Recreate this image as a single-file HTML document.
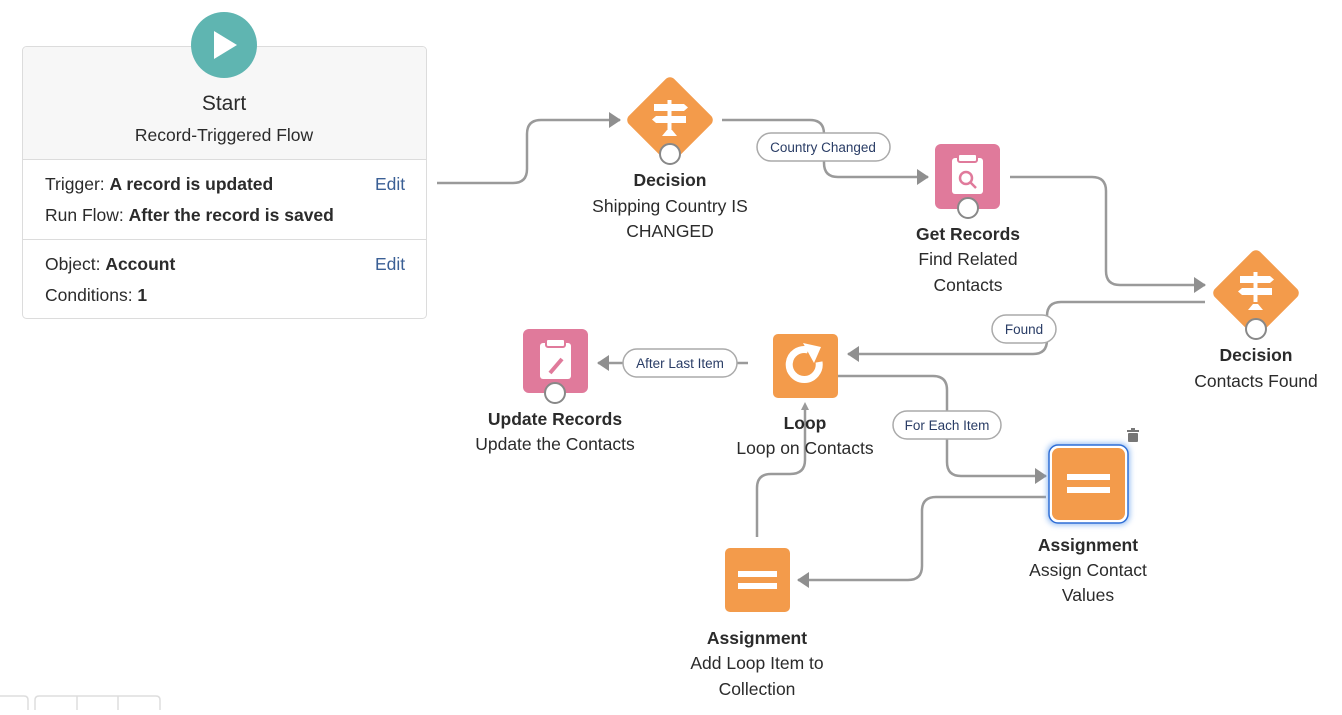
<!DOCTYPE html>
<html><head><meta charset="utf-8"><style>
body{margin:0;background:#fff;width:1342px;height:710px;overflow:hidden;font-family:"Liberation Sans",sans-serif}
svg text{font-family:"Liberation Sans",sans-serif;fill:#2b2b2b}
</style></head><body>
<svg width="1342" height="710" viewBox="0 0 1342 710" xmlns="http://www.w3.org/2000/svg">
<defs>
<marker id="a" markerWidth="12" markerHeight="16" refX="11" refY="8" orient="auto" markerUnits="userSpaceOnUse">
<path d="M0,0 L12,8 L0,16 Z" fill="#8f8f8f"/></marker>
<filter id="g" x="-30%" y="-30%" width="160%" height="160%"><feGaussianBlur stdDeviation="3"/></filter>
</defs>
<!-- Start card -->
<rect x="22.5" y="46.5" width="404" height="272" rx="4" fill="#fff" stroke="#dcdcdc"/>
<path d="M23,50 a4,4 0 0 1 4,-3 H422 a4,4 0 0 1 4,3 V159 H23 Z" fill="#f7f7f7"/>
<line x1="23" y1="159.5" x2="426" y2="159.5" stroke="#dcdcdc"/>
<line x1="23" y1="239.5" x2="426" y2="239.5" stroke="#dcdcdc"/>
<circle cx="224" cy="45" r="33" fill="#5fb5b1"/>
<path d="M214,31 L237,45 L214,59 Z" fill="#fff"/>
<text x="224" y="110" font-size="21" text-anchor="middle">Start</text>
<text x="224" y="141" font-size="17.5" text-anchor="middle">Record-Triggered Flow</text>
<text x="45" y="190" font-size="17.5">Trigger: <tspan font-weight="bold">A record is updated</tspan></text>
<text x="45" y="221" font-size="17.5">Run Flow: <tspan font-weight="bold">After the record is saved</tspan></text>
<text x="45" y="270" font-size="17.5">Object: <tspan font-weight="bold">Account</tspan></text>
<text x="45" y="301" font-size="17.5">Conditions: <tspan font-weight="bold">1</tspan></text>
<text x="375" y="190" font-size="17.5" style="fill:#3a5f95">Edit</text>
<text x="375" y="270" font-size="17.5" style="fill:#3a5f95">Edit</text>

<g fill="none" stroke="#9a9a9a" stroke-width="2.5">
<path d="M437,183 H513 Q527,183 527,169 V134 Q527,120 541,120 H620" marker-end="url(#a)"/>
<path d="M722,120 H810 Q824,120 824,134 V163 Q824,177 838,177 H928" marker-end="url(#a)"/>
<path d="M1010,177 H1092 Q1106,177 1106,191 V271 Q1106,285 1120,285 H1205" marker-end="url(#a)"/>
<path d="M1205,302 H1061 Q1047,302 1047,316 V340 Q1047,354 1033,354 H848" marker-end="url(#a)"/>
<path d="M748,363 H598" marker-end="url(#a)"/>
<path d="M825,376 H933 Q947,376 947,390 V462 Q947,476 961,476 H1046" marker-end="url(#a)"/>
<path d="M1046,497 H936 Q922,497 922,511 V566 Q922,580 908,580 H798" marker-end="url(#a)"/>
<path d="M757,537 V488 Q757,474 771,474 H790 Q805,474 805,460 V410"/>
</g>
<path d="M805,402 L809,410 L801,410 Z" fill="#9a9a9a"/>

<!-- pills -->
<g font-size="13.5" text-anchor="middle">
<rect x="757" y="133" width="133" height="28" rx="14" fill="#fff" stroke="#aaa" stroke-width="1.5"/>
<text x="823" y="152" style="fill:#2a3d66">Country Changed</text>
<rect x="992" y="315" width="64" height="28" rx="14" fill="#fff" stroke="#aaa" stroke-width="1.5"/>
<text x="1024" y="334" style="fill:#2a3d66">Found</text>
<rect x="623" y="349" width="114" height="28" rx="14" fill="#fff" stroke="#aaa" stroke-width="1.5"/>
<text x="680" y="368" style="fill:#2a3d66">After Last Item</text>
<rect x="893" y="411" width="108" height="28" rx="14" fill="#fff" stroke="#aaa" stroke-width="1.5"/>
<text x="947" y="430" style="fill:#2a3d66">For Each Item</text>
</g>

<!-- Decision 1 -->
<rect x="638" y="88" width="64" height="64" rx="6" fill="#f39b4b" transform="rotate(45 670 120)"/>
<g fill="#fff"><path d="M654,104 H684 L688,107.5 L684,111 H654Z"/><path d="M686,116 H656 L652,119.5 L656,123 H686Z"/><rect x="667.5" y="100" width="4" height="30"/><path d="M662,136 L677,136 L672,130 L667,130Z"/></g>
<circle cx="670" cy="154" r="10" fill="#fff" stroke="#888" stroke-width="2"/>
<g text-anchor="middle" font-size="17.5">
<text x="670" y="186" font-weight="bold">Decision</text>
<text x="670" y="212">Shipping Country IS</text>
<text x="670" y="237">CHANGED</text>
</g>

<!-- Get Records -->
<rect x="935" y="144" width="65" height="65" rx="6" fill="#e07a9b"/>
<rect x="952" y="158" width="31" height="36" rx="3" fill="#fff"/>
<rect x="958" y="154" width="19" height="8" rx="2" fill="#fff" stroke="#e07a9b" stroke-width="2"/>
<circle cx="966" cy="178" r="6" fill="none" stroke="#e07a9b" stroke-width="2.5"/>
<line x1="970" y1="182" x2="976" y2="188" stroke="#e07a9b" stroke-width="2.5"/>
<circle cx="968" cy="208" r="10" fill="#fff" stroke="#888" stroke-width="2"/>
<g text-anchor="middle" font-size="17.5">
<text x="968" y="240" font-weight="bold">Get Records</text>
<text x="968" y="265">Find Related</text>
<text x="968" y="291">Contacts</text>
</g>

<!-- Decision 2 -->
<rect x="1224" y="261" width="64" height="64" rx="6" fill="#f39b4b" transform="rotate(45 1256 293)"/>
<g fill="#fff"><path d="M1240,276 H1270 L1274,279.5 L1270,283 H1240Z"/><path d="M1272,288 H1242 L1238,291.5 L1242,295 H1272Z"/><rect x="1253.5" y="272" width="4" height="30"/><path d="M1248,310 L1263,310 L1258,304 L1253,304Z"/></g>
<circle cx="1256" cy="329" r="10" fill="#fff" stroke="#888" stroke-width="2"/>
<g text-anchor="middle" font-size="17.5">
<text x="1256" y="361" font-weight="bold">Decision</text>
<text x="1256" y="387">Contacts Found</text>
</g>

<!-- Loop -->
<rect x="773" y="334" width="65" height="64" rx="5" fill="#f39b4b"/>
<path d="M819,362 A15,15 0 1 1 808,350" fill="none" stroke="#fff" stroke-width="7"/>
<path d="M803,343 L821,347 L814,363 Z" fill="#fff"/>
<g text-anchor="middle" font-size="17.5">
<text x="805" y="429" font-weight="bold">Loop</text>
<text x="805" y="454">Loop on Contacts</text>
</g>

<!-- Update Records -->
<rect x="523" y="329" width="65" height="64" rx="6" fill="#e07a9b"/>
<rect x="540" y="343" width="31" height="36" rx="3" fill="#fff"/>
<rect x="546" y="339" width="19" height="8" rx="2" fill="#fff" stroke="#e07a9b" stroke-width="2"/>
<line x1="550" y1="373" x2="562" y2="359" stroke="#e07a9b" stroke-width="4"/>
<circle cx="555" cy="393" r="10" fill="#fff" stroke="#888" stroke-width="2"/>
<g text-anchor="middle" font-size="17.5">
<text x="555" y="425" font-weight="bold">Update Records</text>
<text x="555" y="450">Update the Contacts</text>
</g>

<!-- Assignment selected -->
<rect x="1047" y="443" width="83" height="82" rx="10" fill="#6fa6ee" filter="url(#g)" opacity="0.7"/>
<rect x="1049" y="445" width="79" height="78" rx="9" fill="#fff" stroke="#2f6ed6" stroke-width="1.5"/>
<rect x="1052" y="448" width="73" height="72" rx="7" fill="#f39b4b"/>
<rect x="1067" y="474" width="43" height="6" fill="#fff"/><rect x="1067" y="487" width="43" height="6" fill="#fff"/>
<g fill="#777"><rect x="1127" y="430" width="12" height="2"/><rect x="1131" y="428" width="4" height="2"/><rect x="1128" y="433" width="10" height="9" rx="1"/></g>
<g text-anchor="middle" font-size="17.5">
<text x="1088" y="551" font-weight="bold">Assignment</text>
<text x="1088" y="576">Assign Contact</text>
<text x="1088" y="601">Values</text>
</g>

<!-- Assignment 2 -->
<rect x="725" y="548" width="65" height="64" rx="5" fill="#f39b4b"/>
<rect x="738" y="571" width="39" height="6" fill="#fff"/><rect x="738" y="583" width="39" height="6" fill="#fff"/>
<g text-anchor="middle" font-size="17.5">
<text x="757" y="644" font-weight="bold">Assignment</text>
<text x="757" y="669">Add Loop Item to</text>
<text x="757" y="695">Collection</text>
</g>

<!-- bottom controls -->
<g fill="none" stroke="#ddd" stroke-width="1.5">
<path d="M0,696 H24 Q28,696 28,700 V710"/>
<path d="M35,710 V700 Q35,696 39,696 H156 Q160,696 160,700 V710"/>
<line x1="77" y1="696" x2="77" y2="710"/><line x1="118" y1="696" x2="118" y2="710"/>
</g>
</svg>
</body></html>
